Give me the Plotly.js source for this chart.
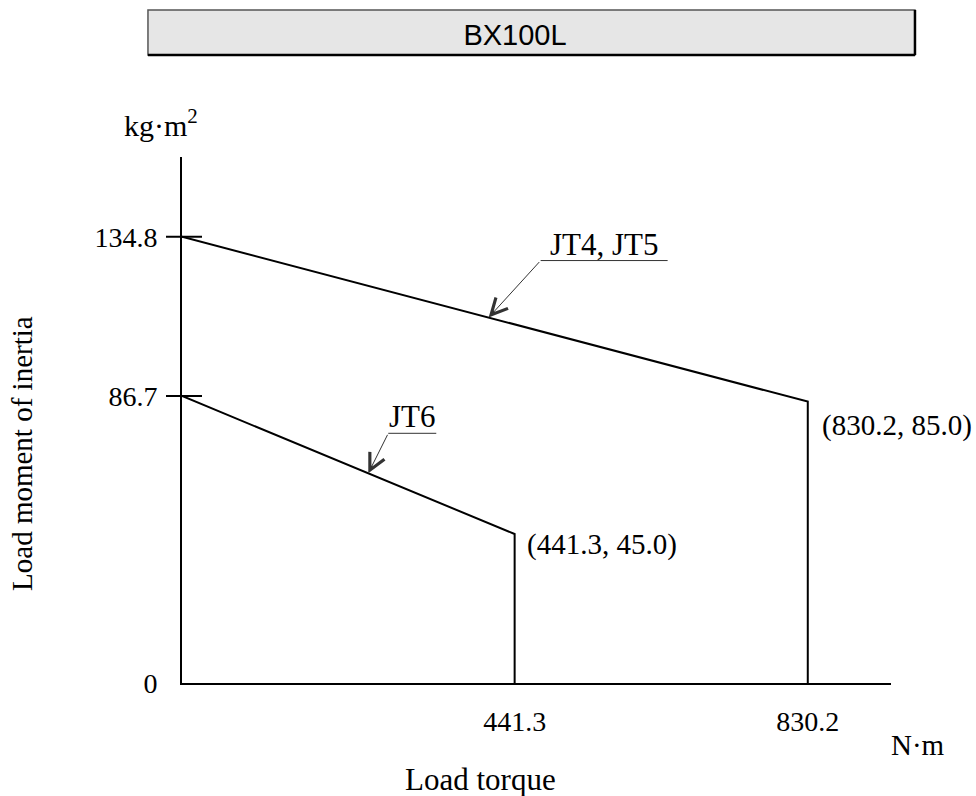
<!DOCTYPE html>
<html>
<head>
<meta charset="utf-8">
<script src="https://cdn.plot.ly/plotly-3.0.1.min.js"></script>
<style>html,body{margin:0;padding:0;background:#fff;}#chart{width:976px;height:796px;}</style>
</head>
<body>
<div id="chart"></div>
<script>
// ---- data ----
const seriesNames = ["JT4, JT5", "JT6"];
const torqueJT45 = [0, 830.2, 830.2];      // N·m
const inertiaJT45 = [134.8, 85.0, 0];      // kg·m²
const torqueJT6 = [0, 441.3, 441.3];
const inertiaJT6 = [86.7, 45.0, 0];
const xTickVals = [441.3, 830.2];
const xTickText = ["441.3", "830.2"];
const yTickVals = [0, 86.7, 134.8];
const yTickText = ["0", "86.7", "134.8"];
const cornerLabels = ["(830.2, 85.0)", "(441.3, 45.0)"];

const SERIF = "Liberation Serif, Times New Roman, serif";
const FS = 29;     // annotation text
const FT = 28;     // tick labels

const traces = [
  {x: torqueJT45, y: inertiaJT45, mode: "lines", name: seriesNames[0],
   line: {color: "#000", width: 2}, hoverinfo: "skip"},
  {x: torqueJT6, y: inertiaJT6, mode: "lines", name: seriesNames[1],
   line: {color: "#000", width: 2}, hoverinfo: "skip"}
];

// point on a segment at fraction t (used as arrow tips)
function along(xs, ys, t) {
  return [xs[0] + (xs[1] - xs[0]) * t, ys[0] + (ys[1] - ys[0]) * t];
}
const tip45 = along(torqueJT45, inertiaJT45, 0.49);
const tip6 = along(torqueJT6, inertiaJT6, 0.56);

const txt = (size) => ({family: SERIF, size: size, color: "#000"});

const annotations = [
  // leader arrows
  {x: tip45[0], y: tip45[1], xref: "x", yref: "y", text: "", showarrow: true,
   ax: 52, ay: -57, axref: "pixel", ayref: "pixel", arrowhead: 5, arrowsize: 3.2,
   arrowwidth: 1, arrowcolor: "#333", standoff: 0},
  {x: tip6[0], y: tip6[1], xref: "x", yref: "y", text: "", showarrow: true,
   ax: 20, ay: -40, axref: "pixel", ayref: "pixel", arrowhead: 5, arrowsize: 3.2,
   arrowwidth: 1, arrowcolor: "#333", standoff: 0},
  // series labels
  {x: tip45[0], y: tip45[1], xref: "x", yref: "y", text: seriesNames[0], showarrow: false,
   xshift: 116, yshift: 73, xanchor: "center", yanchor: "middle", font: txt(31)},
  {x: tip6[0], y: tip6[1], xref: "x", yref: "y", text: seriesNames[1], showarrow: false,
   xshift: 44, yshift: 57, xanchor: "center", yanchor: "middle", font: txt(31)},
  // corner labels
  {x: torqueJT45[1], y: inertiaJT45[1], xref: "x", yref: "y", text: cornerLabels[0], showarrow: false,
   xanchor: "left", yanchor: "middle", xshift: 12, yshift: -24, font: txt(FS)},
  {x: torqueJT6[1], y: inertiaJT6[1], xref: "x", yref: "y", text: cornerLabels[1], showarrow: false,
   xanchor: "left", yanchor: "middle", xshift: 10, yshift: -10, font: txt(FS)},
  // axis titles / units
  {x: -0.0296, y: 1.0646, xref: "paper", yref: "paper", text: "kg·m<sup>2</sup>", showarrow: false,
   xanchor: "center", yanchor: "middle", font: txt(30)},
  {x: 1.038, y: -0.118, xref: "paper", yref: "paper", text: "N·m", showarrow: false,
   xanchor: "center", yanchor: "middle", font: txt(FS)},
  {x: 0.4217, y: -0.1844, xref: "paper", yref: "paper", text: "Load torque", showarrow: false,
   xanchor: "center", yanchor: "middle", font: txt(31)},
  {x: -0.2257, y: 0.4373, xref: "paper", yref: "paper", text: "Load moment of inertia", showarrow: false,
   textangle: -90, xanchor: "center", yanchor: "middle", font: txt(FS)}
];

const shapes = [
  // title box
  {type: "rect", xref: "paper", yref: "paper", x0: -0.048, x1: 1.0338, y0: 1.1939, y1: 1.2795,
   fillcolor: "#e6e6e6", line: {color: "#555", width: 1.5}, layer: "below"},
  {type: "line", xref: "paper", yref: "paper", x0: -0.048, x1: 1.0338, y0: 1.1939, y1: 1.1939,
   line: {color: "#000", width: 2.5}},
  {type: "line", xref: "paper", yref: "paper", x0: 1.0338, x1: 1.0338, y0: 1.1939, y1: 1.2795,
   line: {color: "#000", width: 2.5}},
  // leader underlines
  {type: "line", xref: "x", yref: "y", xsizemode: "pixel", ysizemode: "pixel",
   xanchor: tip45[0], yanchor: tip45[1], x0: 52, x1: 179, y0: 57, y1: 57,
   line: {color: "#333", width: 1}},
  {type: "line", xref: "x", yref: "y", xsizemode: "pixel", ysizemode: "pixel",
   xanchor: tip6[0], yanchor: tip6[1], x0: 20, x1: 68, y0: 40, y1: 40,
   line: {color: "#333", width: 1}}
];
// crossing tick marks on y axis (non-zero ticks)
yTickVals.filter(v => v !== 0).forEach(v => {
  shapes.push({type: "line", xref: "paper", yref: "y", xsizemode: "pixel", xanchor: 0,
    x0: -16, x1: 20, y0: v, y1: v, line: {color: "#000", width: 2}});
});

const layout = {
  width: 976, height: 796,
  margin: {l: 182, r: 85, t: 157, b: 113},
  paper_bgcolor: "#fff", plot_bgcolor: "#fff",
  showlegend: false,
  title: {text: "BX100L", xref: "container", yref: "container", x: 0.5277, y: 0.9567,
    xanchor: "center", yanchor: "middle",
    font: {family: "Liberation Sans, Arial, sans-serif", size: 29, color: "#000"}},
  xaxis: {range: [0, 940.6], showline: true, linecolor: "#000", linewidth: 2,
    showgrid: false, zeroline: false, ticks: "", tickvals: xTickVals, ticktext: xTickText,
    ticklabelstandoff: 12, tickfont: txt(FT), fixedrange: true},
  yaxis: {range: [0, 158.9], showline: true, linecolor: "#000", linewidth: 2,
    showgrid: false, zeroline: false, ticks: "", tickvals: yTickVals, ticktext: yTickText,
    ticklabelstandoff: 17, tickfont: txt(FT), fixedrange: true},
  annotations: annotations,
  shapes: shapes
};

Plotly.newPlot("chart", traces, layout, {staticPlot: true, displayModeBar: false});
</script>
</body>
</html>
